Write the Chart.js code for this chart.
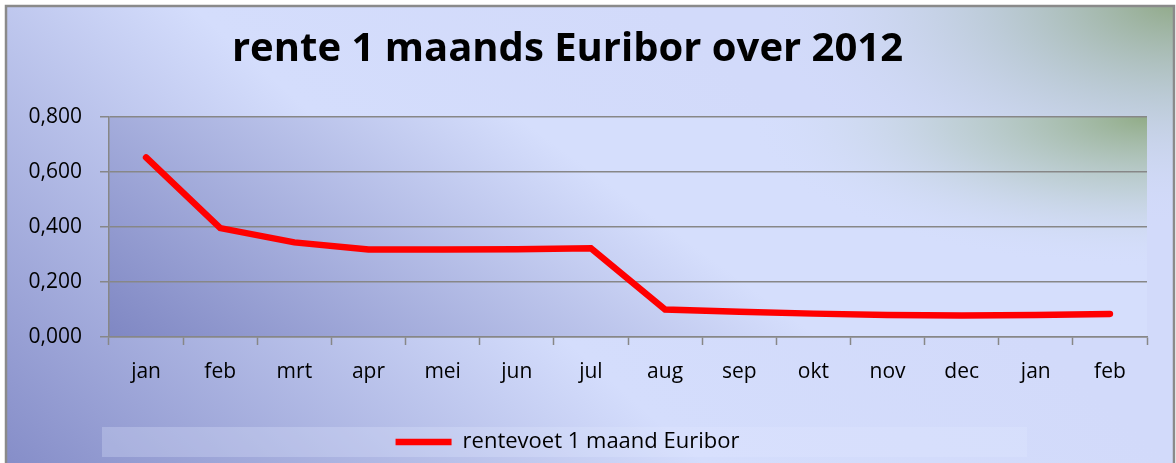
<!DOCTYPE html>
<html>
<head>
<meta charset="utf-8">
<script src="https://cdn.jsdelivr.net/npm/chart.js@4/dist/chart.umd.min.js"></script>
<style>
  html, body { margin: 0; padding: 0; background: #fff; }
  #wrap { width: 1176px; height: 463px; }
</style>
</head>
<body>
<div id="wrap"><canvas id="chart" width="1176" height="463"></canvas></div>
<script>
// maanden (2012 + begin 2013)
const months = ['jan', 'feb', 'mrt', 'apr', 'mei', 'jun', 'jul', 'aug', 'sep', 'okt', 'nov', 'dec', 'jan', 'feb'];
// rentevoet 1 maand Euribor
const euribor1m = [0.653, 0.396, 0.344, 0.318, 0.318, 0.319, 0.323, 0.100, 0.092, 0.085, 0.080, 0.078, 0.080, 0.084];
const yTicks = [0, 0.2, 0.4, 0.6, 0.8];

const gridGrey = '#878787';

// groene gloed in een hoek, als platgedrukte ellips
function cornerGlow(ctx, cx, cy, rx, ry, stops, box) {
    ctx.save();
    ctx.beginPath();
    ctx.rect(box.x, box.y, box.w, box.h);
    ctx.clip();
    ctx.translate(cx, cy);
    ctx.scale(1, ry / rx);
    const r = ctx.createRadialGradient(0, 0, 0, 0, 0, rx);
    stops.forEach(s => r.addColorStop(s[0], s[1]));
    ctx.fillStyle = r;
    ctx.fillRect(-rx, -rx, rx * 2, rx * 2);
    ctx.restore();
}

// achtergronden tekenen (kader, verloop, plotvlak, legendavak)
const backdrop = {
    id: 'backdrop',
    beforeDraw(chart) {
        const ctx = chart.ctx;
        const W = chart.width, H = chart.height;
        ctx.save();
        ctx.fillStyle = '#fff';
        ctx.fillRect(0, 0, W, H);

        // hele vlak
        let g = ctx.createLinearGradient(0, H, 520, -120);
        g.addColorStop(0, '#858dc8');
        g.addColorStop(0.6, '#d4ddfc');
        g.addColorStop(1, '#d2dafa');
        ctx.fillStyle = g;
        ctx.fillRect(6, 6, 1168, 470);
        ctx.restore();

        cornerGlow(ctx, 1176, 0, 420, 230, [
            [0, 'rgba(140,166,128,0.95)'],
            [0.45, 'rgba(172,192,190,0.55)'],
            [1, 'rgba(212,221,252,0)']
        ], { x: 6, y: 6, w: 1168, h: 470 });

        ctx.save();
        ctx.strokeStyle = '#8a8a8a';
        ctx.lineWidth = 2.5;
        ctx.strokeRect(6, 6, 1168, 470);

        // plotvlak
        const a = chart.chartArea;
        g = ctx.createLinearGradient(a.left, a.bottom, a.left + 380, a.top - 300);
        g.addColorStop(0, '#7f87c3');
        g.addColorStop(0.65, '#d5defc');
        g.addColorStop(1, '#d5defc');
        ctx.fillStyle = g;
        ctx.fillRect(a.left, a.top, a.right - a.left, a.bottom - a.top);
        ctx.restore();

        cornerGlow(ctx, a.right, a.top, 400, 150, [
            [0, 'rgba(145,172,135,1)'],
            [0.5, 'rgba(180,200,195,0.6)'],
            [1, 'rgba(213,222,252,0)']
        ], { x: a.left, y: a.top, w: a.right - a.left, h: a.bottom - a.top });

        // legendavak
        ctx.save();
        ctx.fillStyle = 'rgba(225,232,255,0.28)';
        ctx.fillRect(102, 427, 925, 30);
        ctx.restore();
    },
    afterLayout(chart) {
        // titel en legenda staan iets links van het midden
        const shift = -6;
        [chart.titleBlock, chart.legend].forEach(b => {
            if (b) { b.left += shift; b.right += shift; }
        });
    }
};

new Chart(document.getElementById('chart'), {
    type: 'line',
    data: {
        labels: months,
        datasets: [{
            label: 'rentevoet 1 maand Euribor',
            data: euribor1m,
            borderColor: '#ff0000',
            backgroundColor: '#ff0000',
            borderWidth: 6.5,
            borderCapStyle: 'round',
            borderJoinStyle: 'miter',
            pointRadius: 0,
            pointHoverRadius: 0,
            tension: 0,
            fill: false
        }]
    },
    options: {
        responsive: false,
        animation: false,
        layout: { padding: { left: 0, right: 29, top: 0, bottom: 0 } },
        plugins: {
            title: {
                display: true,
                text: 'rente 1 maands Euribor over 2012',
                color: '#000',
                font: { family: 'Open Sans', size: 40, weight: 'bold' },
                padding: { top: 26, bottom: 43 }
            },
            legend: {
                position: 'bottom',
                labels: {
                    usePointStyle: true,
                    pointStyle: 'line',
                    pointStyleWidth: 56,
                    color: '#000',
                    padding: 7,
                    font: { family: 'Open Sans', size: 22 }
                }
            },
            tooltip: { enabled: false }
        },
        scales: {
            x: {
                offset: true,
                grid: {
                    offset: true,
                    drawOnChartArea: false,
                    drawTicks: true,
                    tickLength: 8,
                    tickColor: gridGrey,
                    tickWidth: 1.5
                },
                border: { display: true, color: gridGrey, width: 1.5 },
                ticks: {
                    color: '#000',
                    font: { family: 'Open Sans', size: 21 },
                    padding: 14,
                    maxRotation: 0,
                    autoSkip: false
                },
                afterFit(scale) { scale.height = 87; }
            },
            y: {
                min: 0,
                max: 0.8,
                afterBuildTicks(scale) { scale.ticks = yTicks.map(v => ({ value: v })); },
                grid: {
                    color: gridGrey,
                    lineWidth: 1.5,
                    drawTicks: true,
                    tickLength: 9
                },
                border: { display: true, color: gridGrey, width: 1.5 },
                ticks: {
                    color: '#000',
                    font: { family: 'Open Sans', size: 21 },
                    padding: 18,
                    callback: v => v.toFixed(3).replace('.', ',')
                },
                afterFit(scale) { scale.width = 109; }
            }
        }
    },
    plugins: [backdrop]
});
</script>
</body>
</html>
